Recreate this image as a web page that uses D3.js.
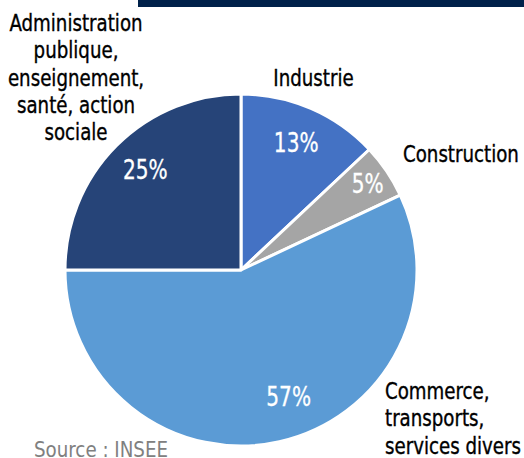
<!DOCTYPE html>
<html>
<head>
<meta charset="utf-8">
<script src="https://cdn.jsdelivr.net/npm/d3@7"></script>
<style>
  html, body { margin: 0; padding: 0; background: #fff; }
  svg text { font-family: "DejaVu Sans Condensed", "DejaVu Sans", sans-serif; }
</style>
</head>
<body>
<svg id="chart" width="524" height="458"></svg>
<script>
// Employment share by sector
const sectors = ["Industrie", "Construction", "Commerce, transports, services divers", "Administration publique, enseignement, santé, action sociale"];
const shares = [13, 5, 57, 25];
const colors = ["#4472C4", "#A5A5A5", "#5B9BD5", "#264478"];
const labelLines = [
  ["Industrie"],
  ["Construction"],
  ["Commerce,", "transports,", "services divers"],
  ["Administration", "publique,", "enseignement,", "santé, action", "sociale"]
];
const sourceText = "Source : INSEE";

const svg = d3.select("#chart");
const cx = 241, cy = 270, r = 176;
const squeeze = 0.88; // narrow the glyphs to a condensed look

// header band
svg.append("rect").attr("x", 138).attr("y", 0).attr("width", 386).attr("height", 7).attr("fill", "#00214A");

const pie = d3.pie().sort(null).value(d => d)(shares);
const arc = d3.arc().innerRadius(0).outerRadius(r);
const g = svg.append("g").attr("transform", `translate(${cx},${cy})`);

g.selectAll("path").data(pie).join("path")
  .attr("d", arc)
  .attr("fill", (d, i) => colors[i])
  .attr("stroke", "#fff")
  .attr("stroke-width", 3)
  .attr("stroke-linejoin", "round");

// percentage labels inside slices
const labelRadius = [0.79, 0.87, 0.77, 0.79];
const labelTurn = [0, 0, -8, 1.5]; // degrees
g.selectAll("g.pct").data(pie).join("g")
  .attr("class", "pct")
  .attr("transform", (d, i) => {
    const a = (d.startAngle + d.endAngle) / 2 + labelTurn[i] * Math.PI / 180;
    const rr = r * labelRadius[i];
    return `translate(${Math.sin(a) * rr},${-Math.cos(a) * rr}) scale(0.86,1)`;
  })
  .append("text")
  .attr("text-anchor", "middle")
  .attr("dy", "0.36em")
  .attr("fill", "#fff")
  .attr("stroke", "#fff")
  .attr("stroke-width", 0.3)
  .attr("font-size", 26)
  .text(d => d.value + "%");

// category labels
const labelPos = [
  { x: 313.5, y: 86, anchor: "middle" },
  { x: 403, y: 162, anchor: "start" },
  { x: 385, y: 399, anchor: "start" },
  { x: 76, y: 31, anchor: "middle" }
];
labelLines.forEach((lines, i) => {
  const p = labelPos[i];
  const t = svg.append("g")
    .attr("transform", `translate(${p.x},${p.y}) scale(${squeeze},1)`)
    .append("text")
    .attr("text-anchor", p.anchor)
    .attr("font-size", 23)
    .attr("fill", "#000")
    .attr("stroke", "#000")
    .attr("stroke-width", 0.35);
  lines.forEach((ln, j) => {
    t.append("tspan").attr("x", 0).attr("dy", j === 0 ? 0 : 27.3).text(ln);
  });
});

svg.append("text")
  .attr("x", 34).attr("y", 457)
  .attr("font-size", 21)
  .attr("textLength", 134)
  .attr("lengthAdjust", "spacingAndGlyphs")
  .attr("fill", "#808080")
  .text(sourceText);
</script>
</body>
</html>
